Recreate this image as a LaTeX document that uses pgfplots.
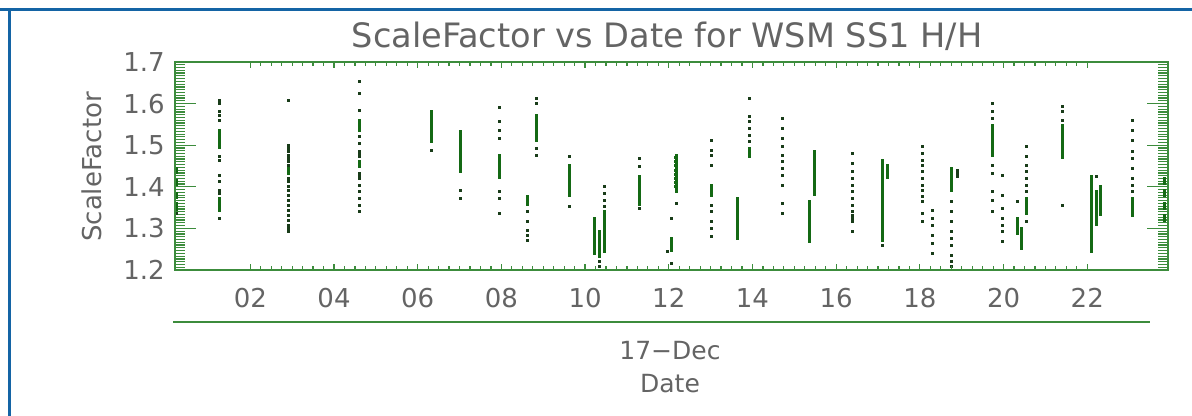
\documentclass[border=0pt]{standalone}
\usepackage{pgfplots}
\usepackage{pgfplotstable}
\pgfplotsset{compat=1.18}
\usepackage{fontspec}
\setmainfont{DejaVu Sans}
\definecolor{axgreen}{RGB}{60,140,60}
\definecolor{ptdark}{RGB}{25,60,25}
\definecolor{ptgreen}{RGB}{20,105,20}
\definecolor{txtgray}{RGB}{100,100,100}
\definecolor{bordblue}{RGB}{20,100,165}

\pgfplotstableread[row sep=\\]{
x y\\
0.24 1.445\\0.24 1.44\\0.24 1.435\\0.24 1.415\\0.24 1.41\\0.24 1.405\\0.24 1.385\\0.24 1.38\\0.24 1.375\\0.24 1.36\\0.24 1.355\\0.24 1.35\\0.24 1.345\\
1.27 1.536\\1.27 1.53\\1.27 1.524\\1.27 1.518\\1.27 1.512\\1.27 1.506\\1.27 1.5\\1.27 1.494\\1.27 1.372\\1.27 1.366\\1.27 1.36\\1.27 1.354\\1.27 1.348\\1.27 1.342\\
2.92 1.444\\2.92 1.438\\2.92 1.432\\
4.61 1.56\\4.61 1.554\\4.61 1.548\\4.61 1.542\\4.61 1.536\\4.61 1.46\\4.61 1.454\\4.61 1.448\\
6.33 1.58\\6.33 1.574\\6.33 1.568\\6.33 1.562\\6.33 1.556\\6.33 1.55\\6.33 1.544\\6.33 1.538\\6.33 1.532\\6.33 1.526\\6.33 1.52\\6.33 1.514\\6.33 1.508\\
7.03 1.532\\7.03 1.526\\7.03 1.52\\7.03 1.514\\7.03 1.508\\7.03 1.502\\7.03 1.496\\7.03 1.49\\7.03 1.484\\7.03 1.478\\7.03 1.472\\7.03 1.466\\7.03 1.46\\7.03 1.454\\7.03 1.448\\7.03 1.442\\7.03 1.436\\
7.96 1.476\\7.96 1.47\\7.96 1.464\\7.96 1.458\\7.96 1.452\\7.96 1.446\\7.96 1.44\\7.96 1.434\\7.96 1.428\\7.96 1.422\\
8.63 1.376\\8.63 1.37\\8.63 1.364\\8.63 1.358\\
8.84 1.572\\8.84 1.566\\8.84 1.56\\8.84 1.554\\8.84 1.548\\8.84 1.542\\8.84 1.536\\8.84 1.53\\8.84 1.524\\8.84 1.518\\8.84 1.512\\
9.63 1.452\\9.63 1.446\\9.63 1.44\\9.63 1.434\\9.63 1.428\\9.63 1.422\\9.63 1.416\\9.63 1.41\\9.63 1.404\\9.63 1.398\\9.63 1.392\\9.63 1.386\\9.63 1.38\\
10.23 1.324\\10.23 1.318\\10.23 1.312\\10.23 1.306\\10.23 1.3\\10.23 1.294\\10.23 1.288\\10.23 1.282\\10.23 1.276\\10.23 1.27\\10.23 1.264\\10.23 1.258\\10.23 1.252\\10.23 1.246\\10.23 1.24\\
10.35 1.292\\10.35 1.286\\10.35 1.28\\10.35 1.274\\10.35 1.268\\10.35 1.262\\10.35 1.256\\10.35 1.25\\10.35 1.244\\10.35 1.238\\10.35 1.232\\
10.47 1.34\\10.47 1.334\\10.47 1.328\\10.47 1.322\\10.47 1.316\\10.47 1.31\\10.47 1.304\\10.47 1.298\\10.47 1.292\\10.47 1.286\\10.47 1.28\\10.47 1.274\\10.47 1.268\\10.47 1.262\\10.47 1.256\\10.47 1.25\\10.47 1.244\\
11.3 1.424\\11.3 1.418\\11.3 1.412\\11.3 1.406\\11.3 1.4\\11.3 1.394\\11.3 1.388\\11.3 1.382\\11.3 1.376\\11.3 1.37\\11.3 1.364\\11.3 1.358\\
12.19 1.476\\12.19 1.47\\12.19 1.464\\12.19 1.458\\12.19 1.452\\12.19 1.446\\12.19 1.44\\12.19 1.434\\12.19 1.428\\12.19 1.422\\12.19 1.416\\12.19 1.41\\12.19 1.404\\12.19 1.398\\12.19 1.392\\12.19 1.388\\
12.15 1.47\\12.15 1.46\\12.15 1.45\\12.15 1.44\\12.15 1.43\\12.15 1.42\\12.15 1.41\\12.15 1.40\\
12.07 1.276\\12.07 1.27\\12.07 1.264\\12.07 1.258\\12.07 1.252\\12.07 1.246\\
13.02 1.404\\13.02 1.398\\13.02 1.392\\13.02 1.386\\13.02 1.38\\
13.64 1.372\\13.64 1.366\\13.64 1.36\\13.64 1.354\\13.64 1.348\\13.64 1.342\\13.64 1.336\\13.64 1.33\\13.64 1.324\\13.64 1.318\\13.64 1.312\\13.64 1.306\\13.64 1.3\\13.64 1.294\\13.64 1.288\\13.64 1.282\\13.64 1.276\\
13.93 1.492\\13.93 1.486\\13.93 1.48\\13.93 1.474\\
15.48 1.484\\15.48 1.478\\15.48 1.472\\15.48 1.466\\15.48 1.46\\15.48 1.454\\15.48 1.448\\15.48 1.442\\15.48 1.436\\15.48 1.43\\15.48 1.424\\15.48 1.418\\15.48 1.412\\15.48 1.406\\15.48 1.4\\15.48 1.394\\15.48 1.388\\15.48 1.382\\
15.36 1.364\\15.36 1.358\\15.36 1.352\\15.36 1.346\\15.36 1.34\\15.36 1.334\\15.36 1.328\\15.36 1.322\\15.36 1.316\\15.36 1.31\\15.36 1.304\\15.36 1.298\\15.36 1.292\\15.36 1.286\\15.36 1.28\\15.36 1.274\\15.36 1.268\\
17.11 1.464\\17.11 1.458\\17.11 1.452\\17.11 1.446\\17.11 1.44\\17.11 1.434\\17.11 1.428\\17.11 1.422\\17.11 1.416\\17.11 1.41\\17.11 1.404\\17.11 1.398\\17.11 1.392\\17.11 1.386\\17.11 1.38\\17.11 1.374\\17.11 1.368\\17.11 1.362\\17.11 1.356\\17.11 1.35\\17.11 1.344\\17.11 1.338\\17.11 1.332\\17.11 1.326\\17.11 1.32\\17.11 1.314\\17.11 1.308\\17.11 1.302\\17.11 1.296\\17.11 1.29\\17.11 1.284\\17.11 1.278\\17.11 1.272\\
17.23 1.452\\17.23 1.446\\17.23 1.44\\17.23 1.434\\17.23 1.428\\17.23 1.422\\
18.76 1.444\\18.76 1.438\\18.76 1.432\\18.76 1.426\\18.76 1.42\\18.76 1.414\\18.76 1.408\\18.76 1.402\\18.76 1.396\\18.76 1.39\\
19.74 1.548\\19.74 1.542\\19.74 1.536\\19.74 1.53\\19.74 1.524\\19.74 1.518\\19.74 1.512\\19.74 1.506\\19.74 1.5\\19.74 1.494\\19.74 1.488\\19.74 1.482\\19.74 1.476\\
20.33 1.324\\20.33 1.318\\20.33 1.312\\20.33 1.306\\20.33 1.3\\20.33 1.294\\20.33 1.288\\
20.43 1.3\\20.43 1.294\\20.43 1.288\\20.43 1.282\\20.43 1.276\\20.43 1.27\\20.43 1.264\\20.43 1.258\\20.43 1.252\\
20.55 1.372\\20.55 1.366\\20.55 1.36\\20.55 1.354\\20.55 1.348\\20.55 1.342\\20.55 1.336\\
21.41 1.548\\21.41 1.542\\21.41 1.536\\21.41 1.53\\21.41 1.524\\21.41 1.518\\21.41 1.512\\21.41 1.506\\21.41 1.5\\21.41 1.494\\21.41 1.488\\21.41 1.482\\21.41 1.476\\21.41 1.47\\
22.1 1.424\\22.1 1.418\\22.1 1.412\\22.1 1.406\\22.1 1.4\\22.1 1.394\\22.1 1.388\\22.1 1.382\\22.1 1.376\\22.1 1.37\\22.1 1.364\\22.1 1.358\\22.1 1.352\\22.1 1.346\\22.1 1.34\\22.1 1.334\\22.1 1.328\\22.1 1.322\\22.1 1.316\\22.1 1.31\\22.1 1.304\\22.1 1.298\\22.1 1.292\\22.1 1.286\\22.1 1.28\\22.1 1.274\\22.1 1.268\\22.1 1.262\\22.1 1.256\\22.1 1.25\\22.1 1.244\\
22.22 1.388\\22.22 1.382\\22.22 1.376\\22.22 1.37\\22.22 1.364\\22.22 1.358\\22.22 1.352\\22.22 1.346\\22.22 1.34\\22.22 1.334\\22.22 1.328\\22.22 1.322\\22.22 1.316\\22.22 1.31\\
22.32 1.40\\22.32 1.394\\22.32 1.388\\22.32 1.382\\22.32 1.376\\22.32 1.37\\22.32 1.364\\22.32 1.358\\22.32 1.352\\22.32 1.346\\22.32 1.34\\22.32 1.334\\
23.08 1.372\\23.08 1.366\\23.08 1.36\\23.08 1.354\\23.08 1.348\\23.08 1.342\\23.08 1.336\\23.08 1.33\\
23.85 1.42\\23.85 1.414\\23.85 1.408\\23.85 1.39\\23.85 1.384\\23.85 1.378\\23.85 1.36\\23.85 1.354\\23.85 1.348\\23.85 1.33\\23.85 1.324\\23.85 1.318\\
}\densepts

\pgfplotstableread[row sep=\\]{
x y\\
0.24 1.335\\
1.27 1.608\\1.27 1.6\\1.27 1.58\\1.27 1.572\\1.27 1.56\\1.27 1.472\\1.27 1.464\\1.27 1.428\\1.27 1.412\\1.27 1.392\\1.27 1.384\\1.27 1.324\\
2.92 1.608\\2.92 1.5\\2.92 1.492\\2.92 1.484\\2.92 1.476\\2.92 1.468\\2.92 1.46\\2.92 1.452\\2.92 1.42\\2.92 1.412\\2.92 1.4\\2.92 1.392\\2.92 1.38\\2.92 1.368\\2.92 1.356\\2.92 1.344\\2.92 1.332\\2.92 1.32\\2.92 1.308\\2.92 1.3\\2.92 1.292\\
4.61 1.652\\4.61 1.624\\4.61 1.584\\4.61 1.52\\4.61 1.504\\4.61 1.484\\4.61 1.478\\4.61 1.472\\4.61 1.432\\4.61 1.426\\4.61 1.42\\4.61 1.404\\4.61 1.388\\4.61 1.372\\4.61 1.356\\4.61 1.34\\
6.33 1.488\\
7.03 1.392\\7.03 1.372\\
7.96 1.59\\7.96 1.556\\7.96 1.536\\7.96 1.516\\7.96 1.388\\7.96 1.372\\7.96 1.336\\
8.63 1.34\\8.63 1.316\\8.63 1.296\\8.63 1.284\\8.63 1.272\\
8.84 1.612\\8.84 1.6\\8.84 1.492\\8.84 1.476\\
9.63 1.472\\9.63 1.352\\
10.35 1.22\\10.35 1.208\\10.47 1.4\\10.47 1.384\\10.47 1.368\\10.47 1.352\\
11.3 1.468\\11.3 1.448\\11.3 1.348\\
11.97 1.244\\12.07 1.324\\12.07 1.216\\12.19 1.36\\
13.02 1.512\\13.02 1.488\\13.02 1.476\\13.02 1.452\\13.02 1.356\\13.02 1.34\\13.02 1.316\\13.02 1.3\\13.02 1.28\\
13.93 1.612\\13.93 1.568\\13.93 1.556\\13.93 1.54\\13.93 1.524\\13.93 1.508\\
14.72 1.564\\14.72 1.54\\14.72 1.516\\14.72 1.496\\14.72 1.476\\14.72 1.46\\14.72 1.444\\14.72 1.428\\14.72 1.404\\14.72 1.36\\14.72 1.336\\
16.39 1.48\\16.39 1.456\\16.39 1.436\\16.39 1.42\\16.39 1.404\\16.39 1.388\\16.39 1.372\\16.39 1.356\\16.39 1.34\\16.39 1.332\\16.39 1.324\\16.39 1.316\\16.39 1.292\\
17.11 1.26\\
18.07 1.496\\18.07 1.48\\18.07 1.464\\18.07 1.452\\18.07 1.436\\18.07 1.42\\18.07 1.404\\18.07 1.392\\18.07 1.376\\18.07 1.364\\18.07 1.336\\18.07 1.316\\
18.3 1.344\\18.3 1.324\\18.3 1.308\\18.3 1.284\\18.3 1.264\\18.3 1.24\\
18.76 1.364\\18.76 1.34\\18.76 1.316\\18.76 1.292\\18.76 1.276\\18.76 1.26\\18.76 1.236\\18.76 1.22\\18.76 1.208\\
18.9 1.44\\18.9 1.432\\18.9 1.424\\
19.74 1.6\\19.74 1.58\\19.74 1.564\\19.74 1.452\\19.74 1.432\\19.74 1.388\\19.74 1.368\\19.74 1.34\\
19.98 1.428\\19.98 1.38\\19.98 1.348\\19.98 1.324\\19.98 1.308\\19.98 1.292\\19.98 1.268\\
20.33 1.364\\
20.55 1.496\\20.55 1.472\\20.55 1.452\\20.55 1.436\\20.55 1.42\\20.55 1.404\\20.55 1.388\\20.55 1.316\\
21.41 1.592\\21.41 1.58\\21.41 1.56\\21.41 1.356\\
22.22 1.424\\
23.08 1.56\\23.08 1.536\\23.08 1.512\\23.08 1.484\\23.08 1.468\\23.08 1.444\\23.08 1.42\\23.08 1.404\\23.08 1.388\\
}\sparsepts

\pgfplotsset{
  frame/.style={
    scale only axis, width=496.5pt, height=104pt,
    at={(87.5pt,73pt)}, anchor=south west,
    xmin=0.2, xmax=23.93, ymin=1.2, ymax=1.7,
    axis line style={draw=axgreen, line width=1pt},
    tick align=inside,
    tick style={draw=axgreen, line width=0.6pt},
    /pgf/number format/assume math mode=true,
  }
}

\begin{document}
\begin{tikzpicture}
\useasboundingbox (0,0) rectangle (596pt,208pt);
\fill[bordblue] (0pt,202.5pt) rectangle (596pt,204pt);
\fill[bordblue] (3.75pt,0pt) rectangle (5.25pt,204pt);

\begin{axis}[frame,
  xtick=\empty,
  ytick={1.2,1.3,1.4,1.5,1.6,1.7},
  yticklabels={1.2,1.3,1.4,1.5,1.6,1.7},
  minor y tick num=14,
  major tick length=10.5pt, minor tick length=5pt,
  yticklabel style={font=\fontsize{13}{15}\selectfont, text=txtgray, inner sep=0pt, anchor=east, xshift=-5pt},
]
\addplot[only marks, mark=square*, mark size=0.5pt, color=ptgreen, mark options={line width=0pt}] table[x=x,y=y] {\densepts};
\addplot[only marks, mark=square*, mark size=0.5pt, color=ptdark, mark options={line width=0pt}] table[x=x,y=y] {\sparsepts};
\end{axis}

\begin{axis}[frame,
  ytick=\empty,
  xtick={2,4,6,8,10,12,14,16,18,20,22},
  xticklabels={02,04,06,08,10,12,14,16,18,20,22},
  minor x tick num=7,
  major tick length=3pt, minor tick length=1.8pt,
  xticklabel style={font=\fontsize{13}{15}\selectfont, text=txtgray, inner sep=0pt, anchor=north, yshift=-9pt},
]
\end{axis}

\node[text=txtgray, font=\fontsize{16.8}{19}\selectfont] at (333.5pt,190pt) {ScaleFactor vs Date for WSM SS1 H/H};
\node[text=txtgray, font=\fontsize{13}{15}\selectfont, rotate=90] at (46pt,124.5pt) {ScaleFactor};
\draw[axgreen, line width=1pt] (86.5pt,47pt) -- (575pt,47pt);
\node[text=txtgray, font=\fontsize{12.5}{15}\selectfont] at (335pt,32.5pt) {17−Dec};
\node[text=txtgray, font=\fontsize{12.5}{15}\selectfont] at (335pt,16pt) {Date};
\end{tikzpicture}
\end{document}
